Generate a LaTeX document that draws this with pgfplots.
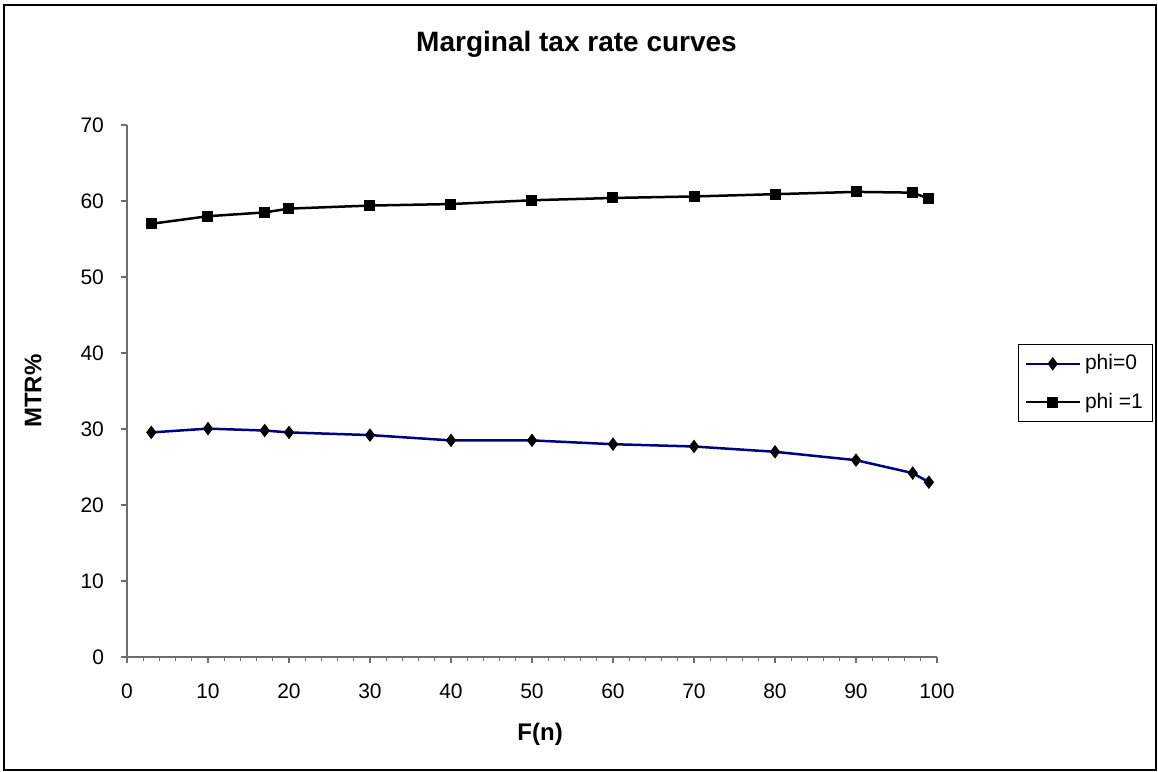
\documentclass[border=0pt]{standalone}
\usepackage{fontspec}
\setmainfont{Liberation Sans}
\usepackage{pgfplots}
\pgfplotsset{compat=1.18}
\definecolor{navyline}{RGB}{0,0,128}
\definecolor{axisgray}{RGB}{110,110,110}
\begin{document}
\begin{tikzpicture}
\useasboundingbox (-63.5pt,-57.5pt) rectangle (515.5pt,328.5pt);
\draw[line width=0.9pt] (-61.5pt,-56.5pt) rectangle (514.5pt,326pt);
\begin{axis}[
  at={(0pt,0pt)}, anchor=origin,
  scale only axis, width=405pt, height=266pt,
  xmin=0, xmax=100, ymin=0, ymax=70,
  axis x line=bottom, axis y line=left,
  axis line style={-, draw=axisgray, line width=0.6pt},
  tick style={draw=axisgray, line width=0.6pt},
  tick align=outside,
  major tick length=3pt, minor tick length=2pt,
  xtick={0,10,...,100}, minor xtick={0,2,...,100},
  ytick={0,10,...,70},
  /pgf/number format/assume math mode=true,
  ticklabel style={font=\fontsize{10.5}{12}\selectfont},
  xticklabel style={yshift=-7pt},
  yticklabel style={xshift=-5pt},
  every axis title shift=0pt,
  title={Marginal tax rate curves},
  title style={at={(axis description cs:0.555,1.152)}, anchor=center, font=\bfseries\fontsize{14}{16}\selectfont},
  xlabel={F(n)},
  xlabel style={at={(axis description cs:0.51,-0.145)}, anchor=center, font=\bfseries\fontsize{12}{14}\selectfont},
  ylabel={MTR\%},
  ylabel style={at={(axis description cs:-0.116,0.5)}, anchor=center, font=\bfseries\fontsize{12}{14}\selectfont},
  legend style={at={(axis description cs:1.100,0.588)}, anchor=north west, draw=black, line width=0.5pt,
    font=\fontsize{10.5}{12}\selectfont, inner xsep=3pt, inner ysep=3pt, row sep=6pt},
  legend cell align=left,
  legend image code/.code={\draw[mark repeat=2,mark phase=2] plot coordinates {(0pt,0pt) (13.5pt,0pt) (27pt,0pt)};},
  clip=false,
]
\addplot[navyline, line width=1.25pt, mark=diamond*, mark size=3pt, mark options={fill=black, draw=black, line width=0.5pt}]
coordinates {(3,29.55) (10,30.05) (17,29.8) (20,29.55) (30,29.2) (40,28.5) (50,28.5) (60,28.0) (70,27.7) (80,27.0) (90,25.9) (97,24.2) (99,23.0)};
\addlegendentry{phi=0}
\addplot[black, line width=1.25pt, mark=square*, mark size=2.5pt, mark options={fill=black, draw=black, line width=0.5pt}]
coordinates {(3,57.0) (10,58.0) (17,58.5) (20,59.0) (30,59.4) (40,59.6) (50,60.1) (60,60.4) (70,60.6) (80,60.9) (90,61.2) (97,61.1) (99,60.3)};
\addlegendentry{phi =1}
\end{axis}
\end{tikzpicture}
\end{document}
